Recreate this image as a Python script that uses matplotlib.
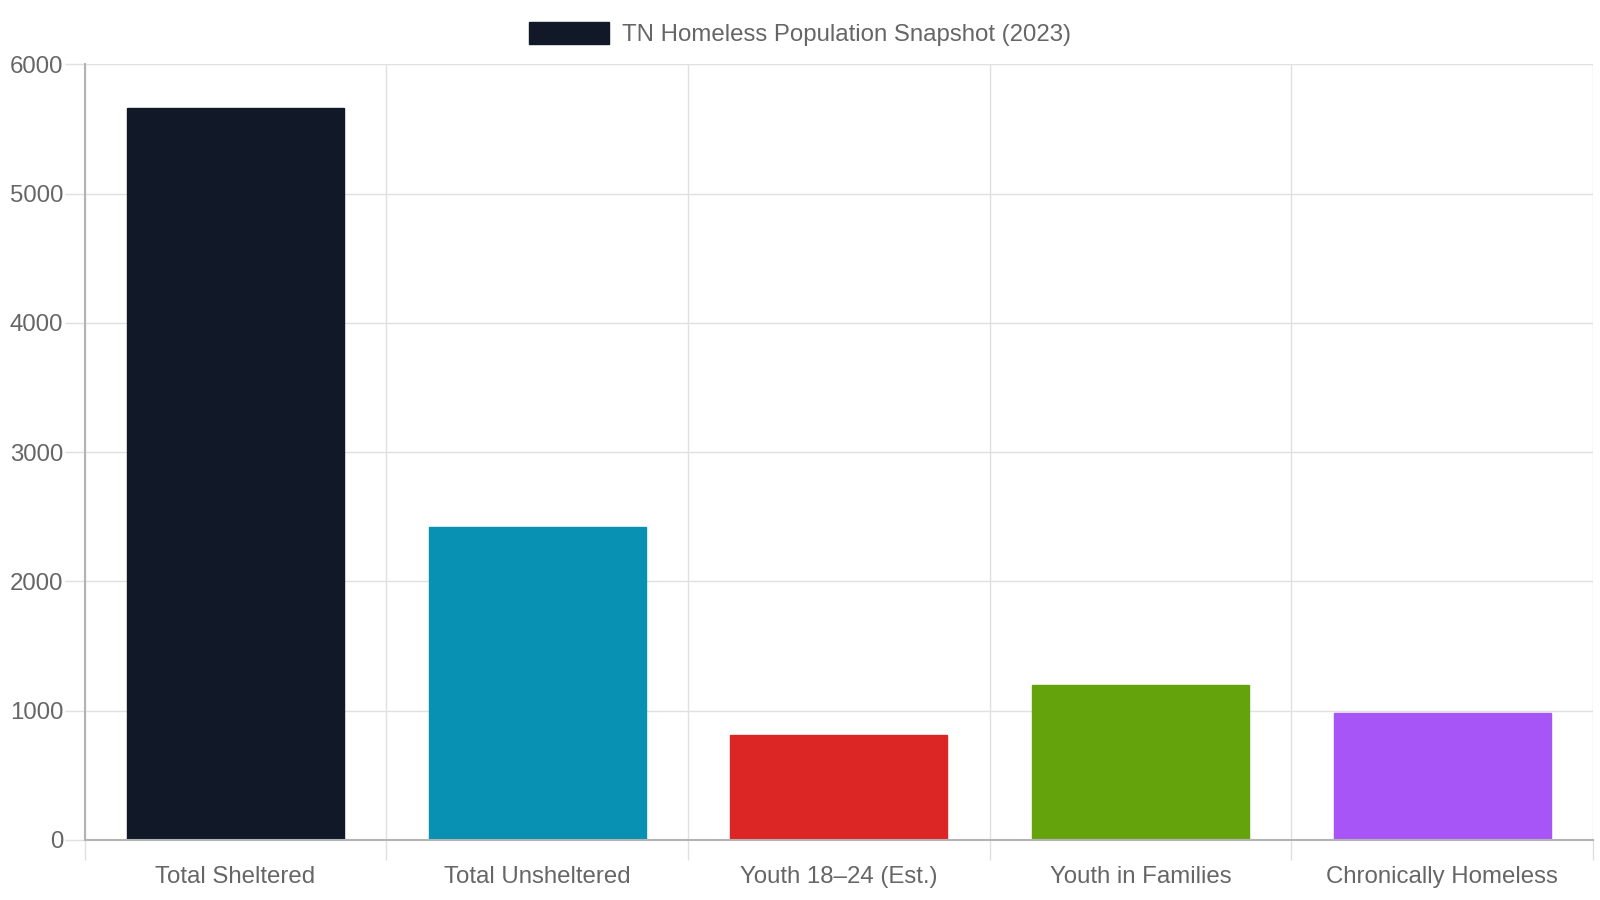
import matplotlib
matplotlib.use("Agg")
import matplotlib.pyplot as plt
from matplotlib.patches import Patch
import numpy as np

categories = ["Total Sheltered", "Total Unsheltered", "Youth 18\u201324 (Est.)",
              "Youth in Families", "Chronically Homeless"]
values = [5665, 2422, 812, 1200, 980]
colors = ["#111827", "#0891b2", "#dc2626", "#65a30d", "#a855f7"]
series_label = "TN Homeless Population Snapshot (2023)"
y_ticks = [0, 1000, 2000, 3000, 4000, 5000, 6000]

plt.rcParams['font.family'] = ['Liberation Sans', 'DejaVu Sans']
FS = 17.3
TXT = "#666666"
GRID = "#e0e0e0"
AXIS = "#b3b3b3"

fig = plt.figure(figsize=(16, 9), dpi=100)
ax = fig.add_axes([0.0529, 0.0669, 0.9427, 0.8617])

x = np.arange(len(categories))
ax.bar(x, values, width=0.72, color=colors, edgecolor=colors, linewidth=1, zorder=3)

ax.set_xlim(-0.5, len(categories) - 0.5)
ax.set_ylim(0, 6000)
ax.set_yticks(y_ticks)
ax.set_yticklabels([str(t) for t in y_ticks])
ax.set_xticks(x)
ax.set_xticklabels(categories)
ax.set_xticks(np.arange(-0.5, len(categories)), minor=True)

ax.tick_params(axis='x', which='major', length=0, pad=19, labelsize=FS, labelcolor=TXT)
ax.tick_params(axis='x', which='minor', length=14.4, width=1, color=GRID)
ax.tick_params(axis='y', which='major', length=14.4, width=1, color=GRID, pad=1,
               labelsize=FS, labelcolor=TXT)

ax.grid(axis='y', which='major', color=GRID, linewidth=1, zorder=0)
ax.grid(axis='x', which='minor', color=GRID, linewidth=1, zorder=0)
ax.set_axisbelow(True)

for s in ['top', 'right']:
    ax.spines[s].set_visible(False)
for s in ['left', 'bottom']:
    ax.spines[s].set_color(AXIS)
    ax.spines[s].set_linewidth(1.5)
    ax.spines[s].set_zorder(4)

handle = Patch(facecolor=colors[0], edgecolor=colors[0], label=series_label)
fig.legend(handles=[handle], loc='center', bbox_to_anchor=(0.5, 0.962),
           frameon=False, fontsize=FS, labelcolor=TXT,
           handlelength=3.33, handleheight=1.0, handletextpad=0.5,
           borderpad=0, borderaxespad=0)

fig.savefig("out.png", dpi=100, facecolor="white")
